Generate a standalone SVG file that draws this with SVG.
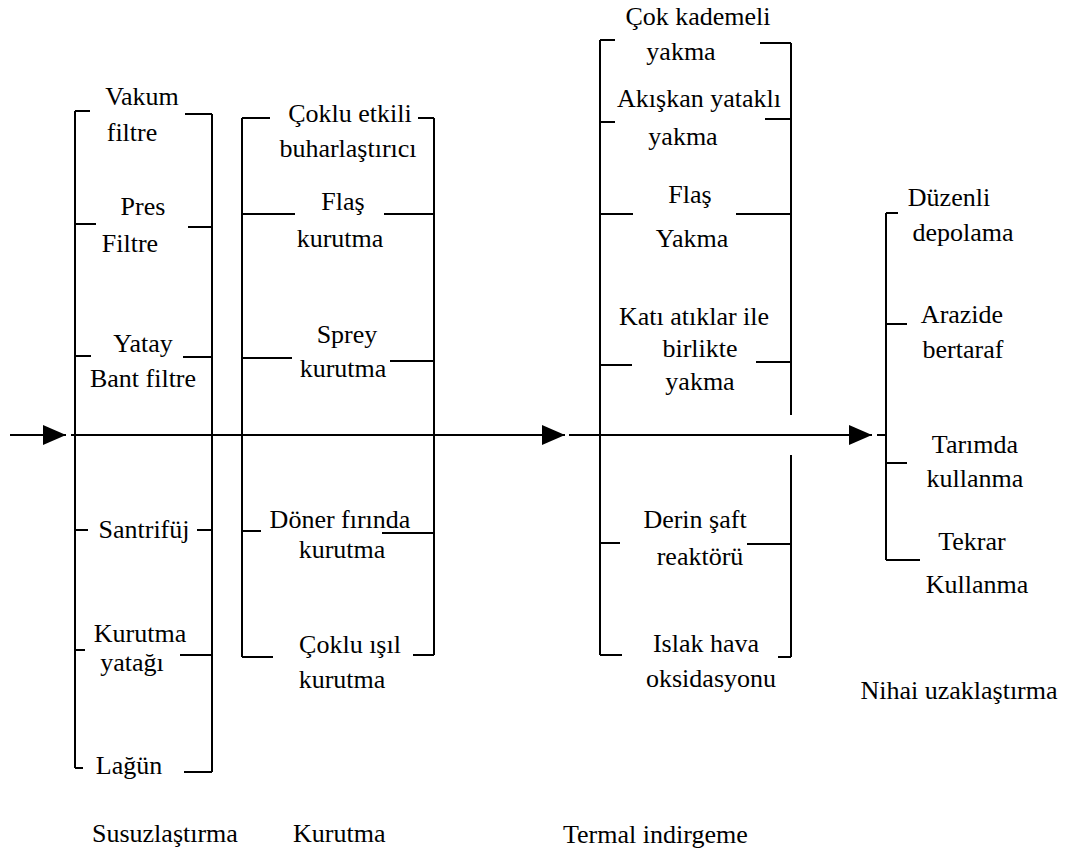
<svg xmlns="http://www.w3.org/2000/svg" width="1069" height="860" viewBox="0 0 1069 860">
<style>
  .ln { stroke: #000; stroke-width: 2; fill: none; }
  text { font-family: "Liberation Serif", "Times New Roman", serif; font-size: 26px; fill: #000; }
  .c { text-anchor: middle; }
</style>
<defs>
  <marker id="arr" markerUnits="userSpaceOnUse" markerWidth="24" markerHeight="22" refX="23" refY="10" orient="auto">
    <path d="M0,0 L23,10 L0,20 Z" fill="#000"/>
  </marker>
</defs>
<rect width="1069" height="860" fill="#fff"/>

<g id="connectors">
  <path class="ln" d="M10,435 H66" marker-end="url(#arr)"/>
  <path class="ln" d="M71,435 H565" marker-end="url(#arr)"/>
  <path class="ln" d="M569,435 H872" marker-end="url(#arr)"/>
  <path class="ln" d="M877,435 H886"/>
</g>

<g id="susuzlastirma">
  <path class="ln" d="M75,111 V768 M75,111 H90 M75,224 H96 M75,356 H91 M75,530 H88 M75,650 H85 M75,768 H83"/>
  <path class="ln" d="M212,114 V772 M185,114 H212 M188,227 H212 M183,357 H212 M197,530 H212 M180,655 H212 M184,772 H212"/>
  <g id="vakum"><text class="c" x="142" y="105">Vakum</text><text class="c" x="132" y="141">filtre</text></g>
  <g id="pres"><text class="c" x="143" y="215">Pres</text><text class="c" x="130" y="252">Filtre</text></g>
  <g id="yatay"><text class="c" x="143" y="352">Yatay</text><text class="c" x="143" y="387">Bant filtre</text></g>
  <g id="santrifuj"><text class="c" x="144" y="538">Santrifüj</text></g>
  <g id="kurutmayatagi"><text class="c" x="140" y="642">Kurutma</text><text class="c" x="132" y="671">yatağı</text></g>
  <g id="lagun"><text class="c" x="129" y="774">Lağün</text></g>
  <text x="92" y="842">Susuzlaştırma</text>
</g>

<g id="kurutma">
  <path class="ln" d="M242,118 V657 M242,118 H270 M242,214 H295 M242,358 H292 M242,531 H261 M242,657 H273"/>
  <path class="ln" d="M434,118 V655 M418,118 H434 M384,214 H434 M390,361 H434 M382,533 H434 M413,655 H434"/>
  <g id="coklu"><text class="c" x="350" y="122">Çoklu etkili</text><text class="c" x="348" y="157">buharlaştırıcı</text></g>
  <g id="flaskurutma"><text class="c" x="343" y="210">Flaş</text><text class="c" x="340" y="247">kurutma</text></g>
  <g id="sprey"><text class="c" x="347" y="343">Sprey</text><text class="c" x="343" y="377">kurutma</text></g>
  <g id="doner"><text class="c" x="340" y="528">Döner fırında</text><text class="c" x="342" y="558">kurutma</text></g>
  <g id="isil"><text class="c" x="350" y="653">Çoklu ışıl</text><text class="c" x="342" y="688">kurutma</text></g>
  <text x="293" y="842">Kurutma</text>
</g>

<g id="termal">
  <path class="ln" d="M600,40 V655 M600,40 H615 M600,122 H615 M600,214 H633 M600,365 H632 M600,543 H620 M600,655 H622"/>
  <path class="ln" d="M791,43 V415 M791,455 V657 M760,43 H791 M765,119 H791 M736,214 H791 M756,362 H791 M747,544 H791 M778,657 H791"/>
  <g id="cokkademeli"><text class="c" x="698" y="25">Çok kademeli</text><text class="c" x="681" y="60">yakma</text></g>
  <g id="akiskan"><text class="c" x="699" y="107">Akışkan yataklı</text><text class="c" x="683" y="145">yakma</text></g>
  <g id="flasyakma"><text class="c" x="690" y="203">Flaş</text><text class="c" x="692" y="247">Yakma</text></g>
  <g id="kati"><text class="c" x="694" y="325">Katı atıklar ile</text><text class="c" x="700" y="357">birlikte</text><text class="c" x="700" y="390">yakma</text></g>
  <g id="derin"><text class="c" x="695" y="528">Derin şaft</text><text class="c" x="700" y="565">reaktörü</text></g>
  <g id="islak"><text class="c" x="706" y="652">Islak hava</text><text class="c" x="711" y="687">oksidasyonu</text></g>
  <text x="563" y="843">Termal indirgeme</text>
</g>

<g id="nihai">
  <path class="ln" d="M886,213 V560 M886,213 H898 M886,324 H907 M886,463 H907 M886,560 H920"/>
  <g id="duzenli"><text class="c" x="949" y="206">Düzenli</text><text class="c" x="963" y="241">depolama</text></g>
  <g id="arazide"><text class="c" x="962" y="323">Arazide</text><text class="c" x="963" y="358">bertaraf</text></g>
  <g id="tarimda"><text class="c" x="975" y="453">Tarımda</text><text class="c" x="975" y="487">kullanma</text></g>
  <g id="tekrar"><text class="c" x="972" y="550">Tekrar</text><text class="c" x="977" y="593">Kullanma</text></g>
  <text class="c" x="959" y="699">Nihai uzaklaştırma</text>
</g>
</svg>
